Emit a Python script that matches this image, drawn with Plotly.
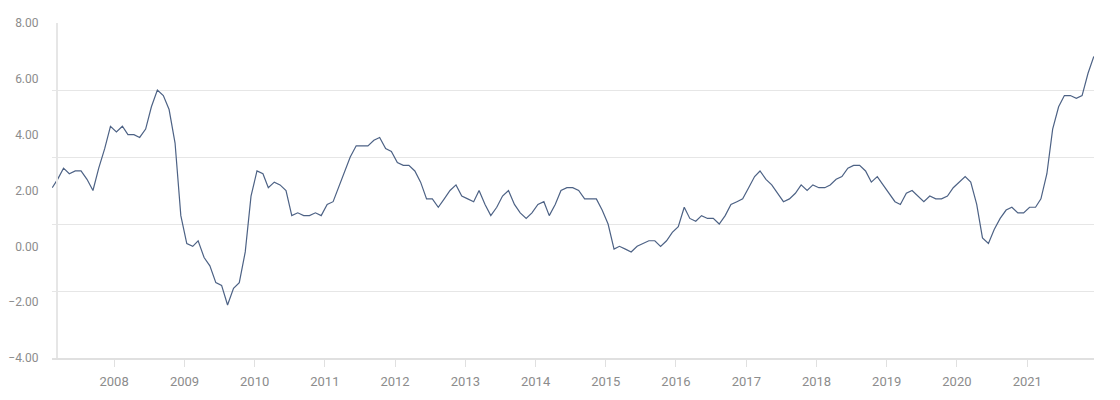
import pandas as pd
import plotly.graph_objects as go

# Monthly year-over-year values (Jan 2007 .. Nov 2021)
v2007 = [2.1, 2.4, 2.8, 2.6, 2.7, 2.7, 2.4, 2.0, 2.8, 3.5, 4.3, 4.1]
v2008 = [4.3, 4.0, 4.0, 3.9, 4.2, 5.0, 5.6, 5.4, 4.9, 3.7, 1.1, 0.1]
v2009 = [0.0, 0.2, -0.4, -0.7, -1.3, -1.4, -2.1, -1.5, -1.3, -0.2, 1.8, 2.7]
v2010 = [2.6, 2.1, 2.3, 2.2, 2.0, 1.1, 1.2, 1.1, 1.1, 1.2, 1.1, 1.5]
v2011 = [1.6, 2.1, 2.7, 3.2, 3.6, 3.6, 3.6, 3.8, 3.9, 3.5, 3.4, 3.0]
v2012 = [2.9, 2.9, 2.7, 2.3, 1.7, 1.7, 1.4, 1.7, 2.0, 2.2, 1.8, 1.7]
v2013 = [1.6, 2.0, 1.5, 1.1, 1.4, 1.8, 2.0, 1.5, 1.2, 1.0, 1.2, 1.5]
v2014 = [1.6, 1.1, 1.5, 2.0, 2.1, 2.1, 2.0, 1.7, 1.7, 1.7, 1.3, 0.8]
v2015 = [-0.1, 0.0, -0.1, -0.2, 0.0, 0.1, 0.2, 0.2, 0.0, 0.2, 0.5, 0.7]
v2016 = [1.4, 1.0, 0.9, 1.1, 1.0, 1.0, 0.8, 1.1, 1.5, 1.6, 1.7, 2.1]
v2017 = [2.5, 2.7, 2.4, 2.2, 1.9, 1.6, 1.7, 1.9, 2.2, 2.0, 2.2, 2.1]
v2018 = [2.1, 2.2, 2.4, 2.5, 2.8, 2.9, 2.9, 2.7, 2.3, 2.5, 2.2, 1.9]
v2019 = [1.6, 1.5, 1.9, 2.0, 1.8, 1.6, 1.8, 1.7, 1.7, 1.8, 2.1, 2.3]
v2020 = [2.5, 2.3, 1.5, 0.3, 0.1, 0.6, 1.0, 1.3, 1.4, 1.2, 1.2, 1.4]
v2021 = [1.4, 1.7, 2.6, 4.2, 5.0, 5.4, 5.4, 5.3, 5.4, 6.2, 6.8]

values = (v2007 + v2008 + v2009 + v2010 + v2011 + v2012 + v2013 + v2014
          + v2015 + v2016 + v2017 + v2018 + v2019 + v2020 + v2021)

# Each value is plotted at its release date (mid of the following month)
dates = pd.date_range("2007-02-01", periods=len(values), freq="MS") + pd.Timedelta(days=12)

y_label_vals = [-4, -2, 0, 2, 4, 6, 8]
grid_vals = [-4, -1.6, 0.8, 3.2, 5.6, 8]

LINE = "#4d6285"
GRID = "#e6e6e6"
TEXT = "#8c8c8c"

fig = go.Figure()
fig.add_trace(go.Scatter(x=dates, y=values, mode="lines",
                         line=dict(color=LINE, width=1.2),
                         hoverinfo="x+y", showlegend=False))
# helper trace to make the grid axis render
fig.add_trace(go.Scatter(x=dates, y=values, mode="lines", yaxis="y2",
                         opacity=0, hoverinfo="skip", showlegend=False))

fig.update_layout(
    width=1104, height=384,
    margin=dict(l=44, r=18, t=15, b=34, autoexpand=False),
    paper_bgcolor="white", plot_bgcolor="white",
    font=dict(family="Roboto", size=12, color=TEXT),
    xaxis=dict(
        type="date", automargin=False,
        range=["2007-02-12", "2021-12-14"],
        tick0="2008-01-01", dtick="M12", tickformat="%Y",
        ticks="outside", ticklen=7, tickcolor="#e0e0e0", tickwidth=1,
        ticklabelstandoff=3,
        showline=True, linecolor="#e0e0e0", linewidth=2,
        showgrid=False, zeroline=False,
        tickfont=dict(size=13, color=TEXT),
    ),
    yaxis=dict(
        range=[-4, 8], automargin=False,
        tickvals=y_label_vals, tickformat=".2f",
        showgrid=False, zeroline=False,
        showline=True, linecolor=GRID, linewidth=1.5,
        anchor="free", position=0.0045,
        ticks="", ticklabelstandoff=15,
        tickfont=dict(size=12, color=TEXT),
    ),
    yaxis2=dict(
        range=[-4, 8], overlaying="y", automargin=False,
        tickvals=grid_vals, showticklabels=False,
        showgrid=True, gridcolor=GRID, gridwidth=1,
        zeroline=False, showline=False,
    ),
)

fig.write_html("out.html")
